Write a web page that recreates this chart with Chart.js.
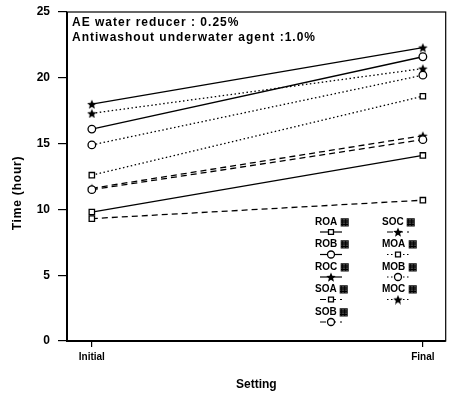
<!DOCTYPE html>
<html>
<head>
<meta charset="utf-8">
<script src="https://cdn.jsdelivr.net/npm/chart.js@4.4.1/dist/chart.umd.min.js"></script>
<style>
  html, body { margin: 0; padding: 0; background: #fff; }
  #wrap { width: 451px; height: 396px; }
</style>
</head>
<body>
<div id="wrap"><canvas id="chart" width="451" height="396"></canvas></div>
<script>
// values
const stages = ['Initial', 'Final'];
const seriesNames = ['ROA', 'ROB', 'ROC', 'SOA', 'SOB', 'SOC', 'MOA', 'MOB', 'MOC'];
const ROA = [9.8, 14.1];
const ROB = [16.1, 21.6];
const ROC = [18.0, 22.3];
const SOA = [9.3, 10.7];
const SOB = [11.5, 15.3];
const SOC = [11.6, 15.6];
const MOA = [12.6, 18.6];
const MOB = [14.9, 20.2];
const MOC = [17.3, 20.7];
const yTicks = [0, 5, 10, 15, 20, 25];
const notes = ['AE water reducer : 0.25%', 'Antiwashout underwater agent :1.0%'];

const allValues = [ROA, ROB, ROC, SOA, SOB, SOC, MOA, MOB, MOC];
const dashes = [[], [], [], [6, 4], [6, 4], [6, 4], [1.5, 2.5], [1.5, 2.5], [1.5, 2.5]];

const FONT = '"Liberation Sans", Arial, sans-serif';

// small filled star for the *C series
function makeStar(size) {
    const c = document.createElement('canvas');
    c.width = size;
    c.height = size;
    const g = c.getContext('2d');
    const r = size / 2, ri = r * 0.45;
    g.beginPath();
    for (let k = 0; k < 10; k++) {
        const rad = k % 2 === 0 ? r : ri;
        const ang = -Math.PI / 2 + k * Math.PI / 5;
        g.lineTo(r + rad * Math.cos(ang), r + 0.6 + rad * Math.sin(ang));
    }
    g.closePath();
    g.fillStyle = '#000';
    g.fill();
    return c;
}
const star = makeStar(10);
const markers = ['rect', 'circle', star, 'rect', 'circle', star, 'rect', 'circle', star];

const datasets = allValues.map((vals, i) => ({
    label: seriesNames[i],
    data: vals.map((v, k) => ({ x: k, y: v })),
    borderColor: '#000',
    backgroundColor: '#fff',
    borderWidth: 1.3,
    borderDash: dashes[i],
    pointStyle: markers[i],
    pointRadius: 3.8,
    pointBorderWidth: 1.3,
    pointBorderColor: '#000',
    pointBackgroundColor: '#fff',
    fill: false
}));

const framePlugin = {
    id: 'frame',
    afterDraw(chart) {
        const { ctx, chartArea: a } = chart;
        ctx.save();
        ctx.strokeStyle = '#000';
        ctx.lineWidth = 1.2;
        ctx.strokeRect(a.left, a.top, a.right - a.left, a.bottom - a.top);
        ctx.lineWidth = 2;
        ctx.beginPath();
        ctx.moveTo(a.left, a.top);
        ctx.lineTo(a.left, a.bottom);
        ctx.lineTo(a.right, a.bottom);
        ctx.stroke();

        ctx.fillStyle = '#000';
        ctx.textBaseline = 'middle';

        // y axis title
        ctx.save();
        ctx.font = 'bold 12px ' + FONT;
        ctx.letterSpacing = '0.8px';
        ctx.textAlign = 'center';
        ctx.translate(18, 193);
        ctx.rotate(-Math.PI / 2);
        ctx.fillText('Time (hour)', 0, 0);
        ctx.restore();

        // notes in the top left corner
        ctx.save();
        ctx.font = 'bold 12px ' + FONT;
        ctx.letterSpacing = '1px';
        ctx.textAlign = 'left';
        notes.forEach((t, i) => ctx.fillText(t, a.left + 5, a.top + 11 + i * 14.5));
        ctx.restore();

        // legend: two columns, label above a line sample
        ctx.font = 'bold 10px ' + FONT;
        chart.data.datasets.forEach((ds, i) => {
            const col = i < 5 ? 0 : 1;
            const row = col === 0 ? i : i - 5;
            const tx = col === 0 ? 315 : 382;
            const ty = 222 + row * 22.5;
            ctx.fillStyle = '#000';
            ctx.textAlign = 'left';
            ctx.fillText(ds.label + ' \u25A6', tx, ty);
            const cx = tx + 16;
            const sy = ty + 10;
            ctx.save();
            ctx.strokeStyle = '#000';
            ctx.lineWidth = 1.2;
            ctx.setLineDash(ds.borderDash);
            ctx.beginPath();
            ctx.moveTo(cx - 11, sy);
            ctx.lineTo(cx + 11, sy);
            ctx.stroke();
            ctx.restore();
            ctx.save();
            ctx.strokeStyle = '#000';
            ctx.fillStyle = '#fff';
            ctx.lineWidth = ds.pointBorderWidth;
            Chart.helpers.drawPoint(ctx, { pointStyle: ds.pointStyle, radius: 3.5, borderWidth: ds.pointBorderWidth, rotation: 0 }, cx, sy);
            ctx.restore();
        });
        ctx.restore();
    }
};

new Chart(document.getElementById('chart'), {
    type: 'line',
    data: { datasets },
    options: {
        responsive: false,
        animation: false,
        layout: { padding: { top: 12, right: 4, left: 0, bottom: 0 } },
        plugins: { legend: { display: false }, tooltip: { enabled: false } },
        scales: {
            x: {
                type: 'linear',
                min: -0.075,
                max: 1.069,
                afterBuildTicks(axis) { axis.ticks = [{ value: 0 }, { value: 1 }]; },
                afterFit(axis) { axis.height = 55; axis.paddingLeft = 0; axis.paddingRight = 0; },
                ticks: {
                    color: '#000',
                    font: { family: FONT, size: 10, weight: 'bold' },
                    padding: 4,
                    maxRotation: 0,
                    callback: (v) => stages[v]
                },
                grid: { drawOnChartArea: false, drawTicks: true, tickLength: 6, color: '#000', lineWidth: 1.2 },
                border: { display: false },
                title: {
                    display: true, text: 'Setting', color: '#000',
                    font: { family: FONT, size: 12, weight: 'bold' },
                    padding: { top: 7 }
                }
            },
            y: {
                min: 0,
                max: 25,
                afterBuildTicks(axis) { axis.ticks = yTicks.map(v => ({ value: v })); },
                afterFit(axis) { axis.width = 67; axis.paddingTop = 0; axis.paddingBottom = 0; },
                ticks: {
                    color: '#000',
                    font: { family: FONT, size: 12, weight: 'bold' },
                    padding: 8
                },
                grid: { drawOnChartArea: false, drawTicks: true, tickLength: 9, color: '#000', lineWidth: 1.2 },
                border: { display: false },
                title: { display: false }
            }
        }
    },
    plugins: [framePlugin]
});
</script>
</body>
</html>
